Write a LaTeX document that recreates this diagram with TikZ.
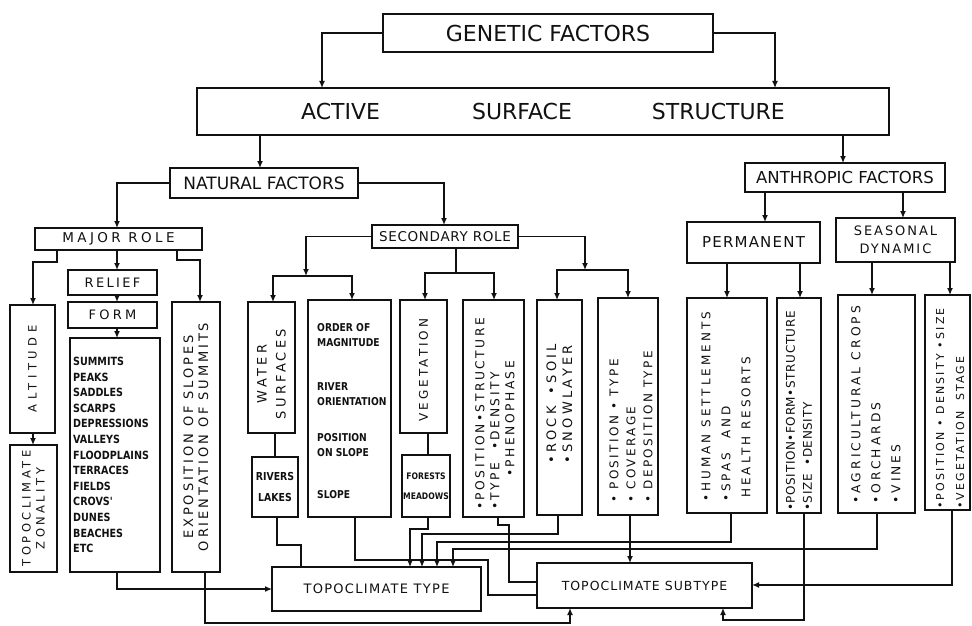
\documentclass[tikz,border=0pt]{standalone}
\usepackage{fontspec}
\usepackage{xcolor}
\setmainfont{DejaVu Sans}
\newfontfamily\narrowfont{DejaVu Sans}[FakeStretch=0.85]
\newcommand\spaced[1]{\addfontfeature{LetterSpace=#1}}
\usetikzlibrary{arrows.meta}
\definecolor{ink}{HTML}{111111}

\tikzset{
  box/.style={draw=ink, line width=1.5pt, inner sep=0pt, outer sep=0pt, align=center, text=ink},
  link/.style={draw=ink, line width=1.3pt},
  arr/.style={link, -{Latex[length=7pt,width=6pt]}},
  upright/.style={rotate=90, inner sep=0pt, align=center, text=ink},
  uprightleft/.style={rotate=90, inner sep=0pt, align=left, anchor=west, text=ink},
}

\begin{document}
\begin{tikzpicture}[x=1pt, y=-1pt]
	\useasboundingbox (0,0) rectangle (972,626);

	% top levels
	\node[box, minimum width=330pt, minimum height=38pt, font=\fontsize{22}{26}\selectfont] (gen) at (548,33) {GENETIC FACTORS};
	\node[box, minimum width=692pt, minimum height=47pt, font=\fontsize{22}{26}\selectfont] (act) at (543,111.5) {ACTIVE\hspace{92pt}SURFACE\hspace{80pt}STRUCTURE};
	\node[box, minimum width=188pt, minimum height=30pt, font=\fontsize{17}{20}\selectfont] (nat) at (264,183) {NATURAL FACTORS};
	\node[box, minimum width=200pt, minimum height=29pt, font=\fontsize{16.5}{20}\selectfont] (ant) at (845,177.5) {ANTHROPIC FACTORS};
	\node[box, minimum width=167pt, minimum height=22pt, font=\fontsize{13.5}{15}\selectfont\spaced{25}] (major) at (118.5,239) {MAJOR ROLE};
	\node[box, minimum width=146pt, minimum height=23pt, font=\fontsize{13.5}{15}\selectfont\spaced{5}] (sec) at (445,236.5) {SECONDARY ROLE};
	\node[box, minimum width=133pt, minimum height=41pt, font=\fontsize{15}{18}\selectfont\spaced{8}] (perm) at (753.5,242.5) {PERMANENT};
	\node[box, minimum width=119pt, minimum height=44pt, font=\fontsize{13}{18}\selectfont\spaced{15}] (seas) at (895.5,240) {SEASONAL\\DYNAMIC};

	% major role
	\node[box, minimum width=89pt, minimum height=25pt, font=\fontsize{13}{15}\selectfont\spaced{18}] (relief) at (112.5,282.5) {RELIEF};
	\node[box, minimum width=89pt, minimum height=26pt, font=\fontsize{13}{15}\selectfont\spaced{25}] (form) at (112.5,315) {FORM};
	\node[box, minimum width=90pt, minimum height=234pt] (list) at (115,455) {};
	\node[font=\narrowfont\bfseries\fontsize{11.3}{15.6}\selectfont, align=left, anchor=north west, inner sep=0pt, text=ink] (listtext) at (73,357) {SUMMITS\\PEAKS\\SADDLES\\SCARPS\\DEPRESSIONS\\VALLEYS\\FLOODPLAINS\\TERRACES\\FIELDS\\CROVS'\\DUNES\\BEACHES\\ETC};
	\node[box, minimum width=45pt, minimum height=128pt] (alt) at (32.5,369) {};
	\node[upright, font=\fontsize{11.5}{14}\selectfont\spaced{40}] (alttext) at (alt) {ALTITUDE};
	\node[box, minimum width=47pt, minimum height=127pt] (zon) at (33.5,508.5) {};
	\node[upright, font=\fontsize{11.5}{14}\selectfont\spaced{30}] (zontext) at (zon) {TOPOCLIMATE\\ZONALITY};
	\node[box, minimum width=48pt, minimum height=270pt] (expo) at (196,437) {};
	\node[upright, font=\fontsize{13}{15}\selectfont\spaced{22}] (expotext) at (expo) {EXPOSITION OF SLOPES\\ORIENTATION OF SUMMITS};

	% secondary role
	\node[box, minimum width=47pt, minimum height=131pt] (water) at (271.5,367.5) {};
	\node[upright, font=\fontsize{13}{19}\selectfont\spaced{25}] (watertext) at (271.5,374) {WATER\\SURFACES};
	\node[box, minimum width=46pt, minimum height=60pt, font=\narrowfont\bfseries\fontsize{11}{21}\selectfont] (rivers) at (275,487) {RIVERS\\LAKES};
	\node[box, minimum width=83pt, minimum height=217pt] (order) at (349.5,408.5) {};
	\node[font=\narrowfont\bfseries\fontsize{10.8}{15}\selectfont, align=left, anchor=north west, inner sep=0pt, text=ink] (ordertext) at (317,323) {ORDER OF\\MAGNITUDE\\[29pt]RIVER\\ORIENTATION\\[21pt]POSITION\\ON SLOPE\\[27pt]SLOPE};
	\node[box, minimum width=47pt, minimum height=133pt] (veg) at (423.5,366.5) {};
	\node[upright, font=\fontsize{12}{14}\selectfont\spaced{25}] (vegtext) at (423.5,370) {VEGETATION};
	\node[box, minimum width=48pt, minimum height=62pt, font=\narrowfont\bfseries\fontsize{9}{20}\selectfont] (forest) at (426,486) {FORESTS\\MEADOWS};
	\node[box, minimum width=61pt, minimum height=217pt] (vegprop) at (493.5,408.5) {};
	\node[uprightleft, font=\fontsize{12.3}{15}\selectfont\spaced{20}] (vegproptext) at (495,510) {•POSITION•STRUCTURE\\•TYPE\ \ •DENSITY\\\hspace{33pt}•PHENOPHASE};
	\node[box, minimum width=45pt, minimum height=215pt] (rock) at (559.5,407.5) {};
	\node[uprightleft, font=\fontsize{13}{16}\selectfont\spaced{25}] (rocktext) at (559.5,464) {•ROCK\hspace{12pt}•SOIL\\•SNOWLAYER};
	\node[box, minimum width=60pt, minimum height=217pt] (cover) at (628,406.5) {};
	\node[uprightleft, font=\fontsize{12}{17}\selectfont\spaced{20}] (covertext) at (631,503) {• POSITION • TYPE\\• COVERAGE\\• DEPOSITION TYPE};

	% anthropic factors
	\node[box, minimum width=80pt, minimum height=215pt] (human) at (727,405.5) {};
	\node[uprightleft, font=\fontsize{12}{20}\selectfont\spaced{25}] (humantext) at (726,502) {•HUMAN SETTLEMENTS\\•SPAS\hspace{14pt}AND\\\hspace{4pt}HEALTH RESORTS};
	\node[box, minimum width=44pt, minimum height=215pt] (settl) at (799,405.5) {};
	\node[uprightleft, font=\fontsize{12}{17}\selectfont\spaced{5}] (settltext) at (799,511) {•POSITION•FORM•STRUCTURE\\•SIZE\ \ •DENSITY};
	\node[box, minimum width=77pt, minimum height=218pt] (crops) at (876.5,404) {};
	\node[uprightleft, font=\fontsize{12.3}{20}\selectfont\spaced{25}] (cropstext) at (876,504) {•AGRICULTURAL CROPS\\•ORCHARDS\\•VINES};
	\node[box, minimum width=45pt, minimum height=215pt] (stage) at (947.5,402.5) {};
	\node[uprightleft, font=\fontsize{11}{20}\selectfont\spaced{20}] (stagetext) at (950,509) {•POSITION • DENSITY •SIZE\\•VEGETATION\hspace{10pt}STAGE};

	% results
	\node[box, minimum width=209pt, minimum height=44pt, font=\fontsize{13}{15}\selectfont\spaced{10}] (type) at (376.5,589) {TOPOCLIMATE TYPE};
	\node[box, minimum width=215pt, minimum height=45pt, font=\fontsize{12.5}{15}\selectfont\spaced{8}] (sub) at (644.5,585.5) {TOPOCLIMATE SUBTYPE};

	\coordinate (secl) at (306,276);
	\coordinate (secm) at (456,273);
	\coordinate (secr) at (585,270);

	% connectors
	\draw[arr] (gen.west) -| (act.north -| 322,0);
	\draw[arr] (gen.east) -| (act.north -| 775,0);
	\draw[arr] (act.south -| 260,0) -- (nat.north -| 260,0);
	\draw[arr] (act.south -| 843,0) -- (ant.north -| 843,0);
	\draw[arr] (nat.west) -| (major.north -| 117,0);
	\draw[arr] (nat.east) -| (sec.north -| 444,0);
	\draw[arr] (ant.south -| 765,0) -- (perm.north -| 765,0);
	\draw[arr] (ant.south -| 903,0) -- (seas.north -| 903,0);

	\draw[arr] (major.south -| 57,0) |- (33,262) -- (alt.north -| 33,0);
	\draw[arr] (major.south -| 117,0) -- (relief.north -| 117,0);
	\draw[arr] (major.south -| 177,0) |- (200,260) -- (expo.north -| 200,0);
	\draw[arr] (relief.south -| 117,0) -- (form.north -| 117,0);
	\draw[arr] (form.south -| 117,0) -- (list.north -| 117,0);
	\draw[arr] (alt.south -| 33,0) -- (zon.north -| 33,0);

	\draw[arr] (sec.west) -| (secl);
	\draw[arr] (secl) -| (water.north -| 273,0);
	\draw[arr] (secl) -| (order.north -| 352,0);
	\draw[link] (sec.south -| secm) -- (secm);
	\draw[arr] (secm) -| (veg.north -| 425,0);
	\draw[arr] (secm) -| (vegprop.north -| 494,0);
	\draw[arr] (sec.east) -| (secr);
	\draw[arr] (secr) -| (rock.north -| 557,0);
	\draw[arr] (secr) -| (cover.north -| 628,0);

	\draw[arr] (perm.south -| 727,0) -- (human.north -| 727,0);
	\draw[arr] (perm.south -| 800,0) -- (settl.north -| 800,0);
	\draw[arr] (seas.south -| 872,0) -- (crops.north -| 872,0);
	\draw[arr] (seas.south -| 950,0) -- (stage.north -| 950,0);

	\draw[link] (water.south -| 275,0) -- (rivers.north -| 275,0);
	\draw[link] (veg.south -| 428,0) -- (forest.north -| 428,0);

	\draw[arr] (list.south -| 117,0) |- (type.west);
	\draw[arr] (expo.south -| 205,0) |- (570,623) -- (sub.south -| 570,0);
	\draw[link] (rivers.south -| 277,0) |- (301,545) -- (type.north -| 301,0);
	\draw[arr] (forest.south -| 428,0) |- (410,529) -- (type.north -| 410,0);
	\draw[arr] (rock.south -| 558,0) |- (422,534) -- (type.north -| 422,0);
	\draw[arr] (human.south -| 731,0) |- (437,542) -- (type.north -| 437,0);
	\draw[arr] (crops.south -| 877,0) |- (453,549) -- (type.north -| 453,0);
	\draw[link] (order.south -| 355,0) |- (488,560) |- (sub.west |- 0,595);
	\draw[link] (vegprop.south -| 498,0) |- (509,525) |- (sub.west |- 0,582);
	\draw[arr] (cover.south -| 630,0) -- (sub.north -| 630,0);
	\draw[arr] (settl.south -| 804,0) |- (723,620) -- (sub.south -| 723,0);
	\draw[arr] (stage.south -| 952,0) |- (sub.east |- 0,585);
\end{tikzpicture}
\end{document}
